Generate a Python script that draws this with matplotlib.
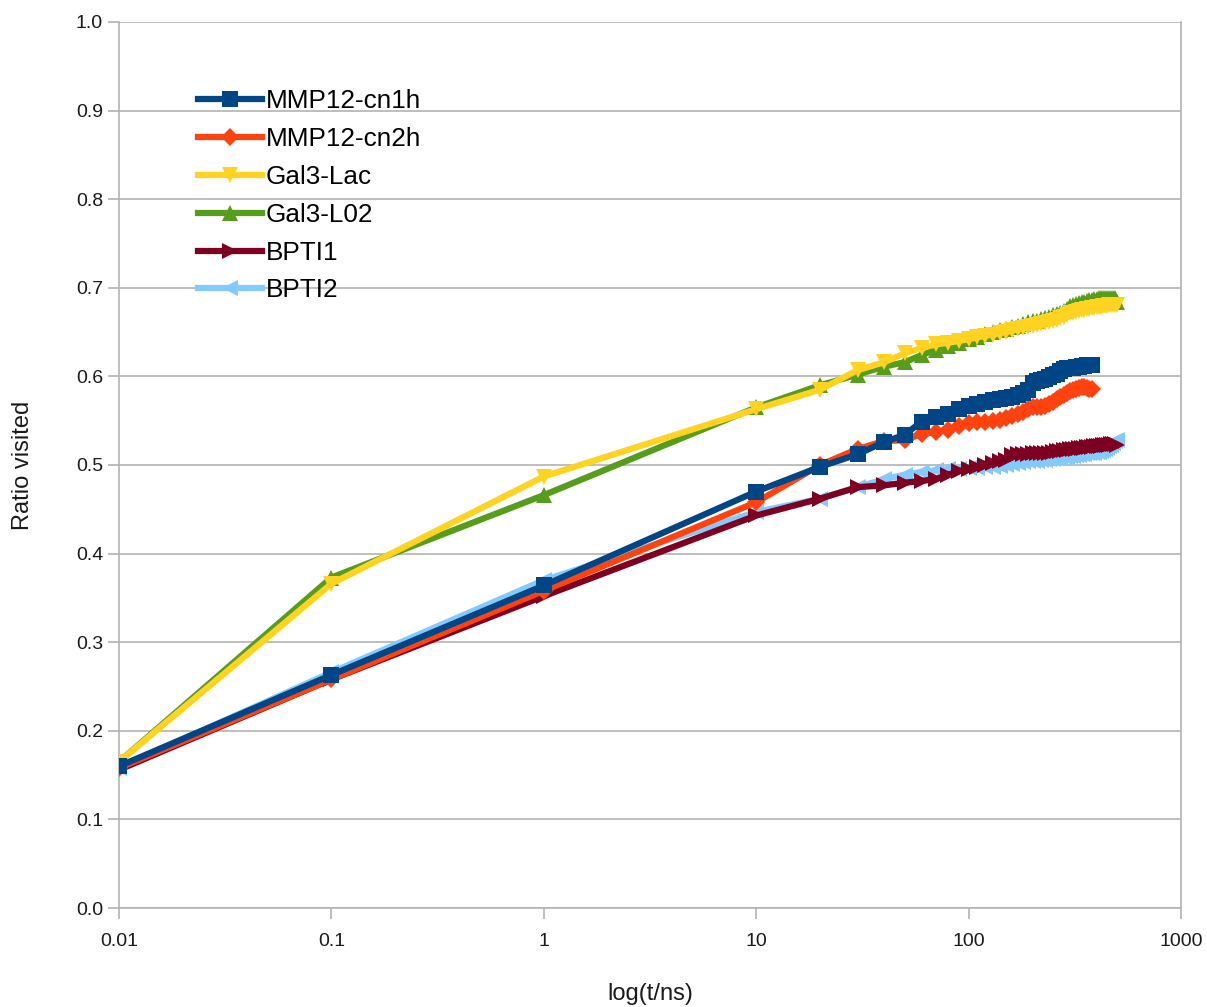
import matplotlib
matplotlib.use('Agg')
import matplotlib.pyplot as plt
import numpy as np

plt.rcParams['font.family'] = ['Liberation Sans', 'DejaVu Sans']

# time points (ns): 0.01, 0.1, 1, then every 10 ns
t_short = [0.01, 0.1, 1] + list(range(10, 390, 10))
t_long = [0.01, 0.1, 1] + list(range(10, 510, 10))

mmp12_cn1h = [0.160, 0.263, 0.364,
              0.470, 0.498, 0.512, 0.526, 0.534, 0.549, 0.554, 0.557, 0.563, 0.567,
              0.569, 0.571, 0.573, 0.575, 0.576, 0.577, 0.579, 0.581, 0.585, 0.593,
              0.595, 0.596, 0.597, 0.599, 0.601, 0.603, 0.606, 0.608, 0.609, 0.610,
              0.610, 0.611, 0.611, 0.612, 0.612, 0.613, 0.613, 0.613]

mmp12_cn2h = [0.158, 0.258, 0.358,
              0.458, 0.500, 0.518, 0.527, 0.528, 0.535, 0.537, 0.540, 0.544, 0.547,
              0.548, 0.549, 0.550, 0.551, 0.553, 0.555, 0.558, 0.560, 0.563, 0.565,
              0.566, 0.566, 0.567, 0.569, 0.571, 0.574, 0.577, 0.579, 0.581, 0.583,
              0.585, 0.586, 0.587, 0.588, 0.588, 0.587, 0.586, 0.586]

gal3_lac = [0.165, 0.366, 0.487,
            0.563, 0.585, 0.607, 0.616, 0.626, 0.632, 0.636, 0.638, 0.640, 0.642,
            0.644, 0.646, 0.647, 0.649, 0.650, 0.652, 0.653, 0.655, 0.656, 0.657,
            0.658, 0.659, 0.660, 0.661, 0.662, 0.664, 0.666, 0.667, 0.669, 0.671,
            0.672, 0.673, 0.674, 0.675, 0.675, 0.676, 0.676, 0.677, 0.677, 0.678,
            0.678, 0.678, 0.679, 0.679, 0.679, 0.680, 0.680, 0.680, 0.681, 0.681]

gal3_l02 = [0.165, 0.373, 0.466,
            0.565, 0.590, 0.602, 0.611, 0.616, 0.624, 0.630, 0.634, 0.638, 0.642,
            0.645, 0.648, 0.650, 0.652, 0.654, 0.656, 0.657, 0.659, 0.661, 0.662,
            0.663, 0.665, 0.666, 0.667, 0.669, 0.670, 0.672, 0.674, 0.676, 0.679,
            0.681, 0.682, 0.683, 0.684, 0.684, 0.685, 0.686, 0.686, 0.687, 0.687,
            0.688, 0.688, 0.688, 0.689, 0.689, 0.689, 0.689, 0.689, 0.689, 0.684]

bpti1 = [0.156, 0.258, 0.352,
         0.443, 0.462, 0.475, 0.477, 0.480, 0.482, 0.484, 0.489, 0.493, 0.496,
         0.498, 0.500, 0.502, 0.504, 0.506, 0.511, 0.512, 0.512, 0.512, 0.513,
         0.513, 0.513, 0.514, 0.514, 0.515, 0.516, 0.516, 0.517, 0.517, 0.518,
         0.518, 0.518, 0.519, 0.519, 0.519, 0.520, 0.520, 0.520, 0.521, 0.521,
         0.521, 0.521, 0.522, 0.522, 0.523, 0.523, 0.524, 0.524, 0.524, 0.523]

bpti2 = [0.158, 0.266, 0.370,
         0.447, 0.462, 0.475, 0.484, 0.489, 0.492, 0.494, 0.495, 0.496, 0.497,
         0.497, 0.498, 0.498, 0.499, 0.500, 0.501, 0.502, 0.503, 0.504, 0.505,
         0.505, 0.506, 0.506, 0.507, 0.507, 0.508, 0.508, 0.509, 0.509, 0.510,
         0.510, 0.511, 0.511, 0.512, 0.512, 0.513, 0.513, 0.514, 0.514, 0.515,
         0.515, 0.516, 0.517, 0.518, 0.519, 0.521, 0.523, 0.525, 0.527, 0.528]

series = [
    ('MMP12-cn1h', t_short, mmp12_cn1h, '#004586', 's'),
    ('MMP12-cn2h', t_short, mmp12_cn2h, '#ff420e', 'D'),
    ('Gal3-Lac', t_long, gal3_lac, '#ffd320', 'v'),
    ('Gal3-L02', t_long, gal3_l02, '#579d1c', '^'),
    ('BPTI1', t_long, bpti1, '#7e0021', '>'),
    ('BPTI2', t_long, bpti2, '#83caff', '<'),
]

fig = plt.figure(figsize=(12.07, 10.07), dpi=100)
ax = fig.add_axes([0.0986, 0.0983, 0.8799, 0.8799])

n = len(series)
for i, (name, x, y, col, mk) in enumerate(series):
    ms = 9.5 if mk == 'D' else 11.5
    ax.plot(x, y, color=col, marker=mk, markersize=ms, linewidth=4.5,
            markeredgewidth=0, label=name, zorder=10 + n - i)

ax.set_xscale('log')
ax.set_xlim(0.01, 1000)
ax.set_ylim(0, 1.0)
ax.set_xticks([0.01, 0.1, 1, 10, 100, 1000])
ax.set_xticklabels(['0.01', '0.1', '1', '10', '100', '1000'])
ax.xaxis.set_minor_locator(matplotlib.ticker.NullLocator())
ax.set_yticks(np.arange(0, 1.01, 0.1))
ax.set_yticklabels(['%.1f' % v for v in np.arange(0, 1.01, 0.1)])

gc = '#b3b3b3'
ax.yaxis.grid(True, color=gc, linewidth=1.2)
ax.set_axisbelow(True)
for s in ['left', 'right', 'bottom']:
    ax.spines[s].set_color(gc)
    ax.spines[s].set_linewidth(1.2)
ax.spines['top'].set_visible(False)
ax.tick_params(axis='both', colors=gc, labelcolor='#1a1a1a', labelsize=14,
               length=8, width=1.2)
ax.tick_params(axis='x', pad=10)

ax.set_xlabel('log(t/ns)', fontsize=17, labelpad=24, color='#1a1a1a')
ax.set_ylabel('Ratio visited', fontsize=17, labelpad=30, color='#1a1a1a')

ax.legend(loc='upper left', bbox_to_anchor=(0.0745, 0.924), frameon=False,
          fontsize=18.8, handlelength=2.45, handletextpad=0.15, labelspacing=0.53,
          borderpad=0, borderaxespad=0)

plt.savefig('out.png', dpi=100)
